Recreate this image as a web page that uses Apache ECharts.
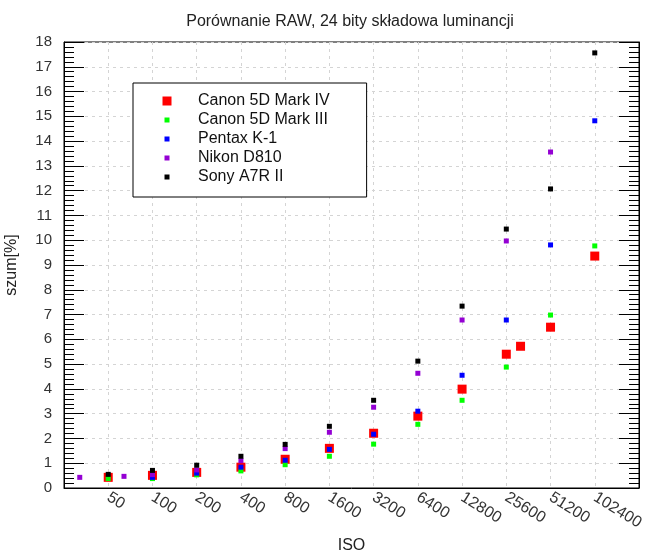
<!DOCTYPE html>
<html>
<head>
<meta charset="utf-8">
<script src="https://cdn.jsdelivr.net/npm/echarts@6/dist/echarts.min.js"></script>
<style>html,body{margin:0;padding:0;background:#fff}#c{width:670px;height:550px}</style>
</head>
<body>
<div id="c"></div>
<script>
// ---- data ----
const isoTicks = [50, 100, 200, 400, 800, 1600, 3200, 6400, 12800, 25600, 51200, 102400];
const isoBase = 25; // left edge of the ISO (log2) axis

const canon4Iso = [50, 100, 200, 400, 800, 1600, 3200, 6400, 12800, 25600, 32000, 51200, 102400];
const canon4Val = [0.43, 0.51, 0.63, 0.84, 1.16, 1.60, 2.21, 2.90, 3.99, 5.40, 5.72, 6.49, 9.36];

const canon3Iso = [50, 100, 200, 400, 800, 1600, 3200, 6400, 12800, 25600, 51200, 102400];
const canon3Val = [0.38, 0.38, 0.53, 0.69, 0.94, 1.28, 1.77, 2.57, 3.54, 4.88, 6.98, 9.77];

const pentaxIso = [100, 200, 400, 800, 1600, 3200, 6400, 12800, 25600, 51200, 102400];
const pentaxVal = [0.43, 0.60, 0.84, 1.12, 1.56, 2.17, 3.10, 4.55, 6.78, 9.81, 14.82];

const nikonIso = [32, 64, 100, 200, 400, 800, 1600, 3200, 6400, 12800, 25600, 51200];
const nikonVal = [0.43, 0.47, 0.54, 0.73, 1.10, 1.59, 2.25, 3.26, 4.63, 6.78, 9.97, 13.56];

const sonyIso = [50, 100, 200, 400, 800, 1600, 3200, 6400, 12800, 25600, 51200, 102400];
const sonyVal = [0.55, 0.71, 0.92, 1.28, 1.76, 2.49, 3.54, 5.12, 7.34, 10.45, 12.07, 17.56];

const seriesNames = ['Canon 5D Mark IV', 'Canon 5D Mark III', 'Pentax K-1', 'Nikon D810', 'Sony A7R II'];
const seriesColors = ['#ff0000', '#00ff00', '#0000ff', '#9400d3', '#000000'];

// ---- build ----
const FONT = 'Liberation Sans, Arial, sans-serif';
function pts(isos, vals) {
  return isos.map((iso, i) => [Math.log2(iso / isoBase), vals[i]]);
}
const allData = [
  pts(canon4Iso, canon4Val),
  pts(canon3Iso, canon3Val),
  pts(pentaxIso, pentaxVal),
  pts(nikonIso, nikonVal),
  pts(sonyIso, sonyVal)
];
const sizes = [9, 5, 5, 5, 5];
const bigIcon = 'path://M0,0M31,10M0.5,0.5h9v9h-9z';
const smallIcon = 'path://M0,0M31,10M2.5,2.5h5v5h-5z';

const series = seriesNames.map((n, i) => ({
  name: n,
  type: 'scatter',
  symbol: 'rect',
  symbolSize: sizes[i],
  itemStyle: { color: seriesColors[i], opacity: 1 },
  data: allData[i],
  z: 2 + i
}));

const chart = echarts.init(document.getElementById('c'), null, { renderer: 'canvas' });
chart.setOption({
  animation: false,
  backgroundColor: '#fff',
  textStyle: { fontFamily: FONT },
  title: {
    text: 'Porównanie RAW, 24 bity składowa luminancji',
    left: 350, top: 14, padding: 0,
    textAlign: 'center',
    textStyle: { fontFamily: FONT, fontSize: 16, fontWeight: 'normal', color: '#222' }
  },
  legend: {
    orient: 'vertical',
    left: 133, top: 83,
    padding: [10, 37, 12, 29],
    itemGap: 3,
    itemWidth: 31, itemHeight: 10,
    backgroundColor: '#fff',
    borderColor: '#000', borderWidth: 1,
    textStyle: { fontFamily: FONT, fontSize: 16, color: '#111', padding: 0 },
    data: seriesNames.map((n, i) => ({ name: n, icon: i === 0 ? bigIcon : smallIcon }))
  },
  grid: {
    left: 64, right: 31, top: 42, bottom: 62,
    containLabel: false,
    outerBoundsMode: 'none',
    show: true, borderColor: '#000', borderWidth: 1, backgroundColor: 'transparent'
  },
  xAxis: {
    type: 'value', min: 0, max: 13, interval: 1,
    name: 'ISO', nameLocation: 'middle', nameGap: 40,
    nameTextStyle: { fontFamily: FONT, fontSize: 16, color: '#222' },
    axisLine: { show: true, lineStyle: { color: '#000', width: 1 } },
    axisTick: { show: false },
    axisLabel: {
      rotate: -32, margin: 8,
      fontFamily: FONT, fontSize: 16, color: '#333',
      formatter: v => {
        const k = Math.round(v);
        return (k >= 1 && k <= isoTicks.length) ? String(isoTicks[k - 1]) : '';
      }
    },
    splitLine: { show: true, lineStyle: { color: '#d4d4d4', type: [3, 4], width: 1 } }
  },
  yAxis: [
    {
      type: 'value', min: 0, max: 18, interval: 1, position: 'left',
      name: 'szum[%]', nameLocation: 'middle', nameGap: 44, nameRotate: 90,
      nameTextStyle: { fontFamily: FONT, fontSize: 16, color: '#222' },
      axisLine: { show: true, lineStyle: { color: '#000', width: 1 } },
      axisTick: { show: true, inside: true, length: 20, lineStyle: { color: '#000', width: 1 } },
      minorTick: { show: true, splitNumber: 5, length: 10, lineStyle: { color: '#000', width: 1 } },
      axisLabel: { margin: 12, fontFamily: FONT, fontSize: 15, color: '#333' },
      splitLine: { show: true, lineStyle: { color: '#d4d4d4', type: [3, 4], width: 1 } }
    },
    {
      type: 'value', min: 0, max: 18, interval: 1, position: 'right',
      axisLine: { show: true, lineStyle: { color: '#000', width: 1 } },
      axisTick: { show: true, inside: true, length: 20, lineStyle: { color: '#000', width: 1 } },
      minorTick: { show: true, splitNumber: 5, length: 10, lineStyle: { color: '#000', width: 1 } },
      axisLabel: { show: false },
      splitLine: { show: false }
    }
  ],
  series: series
});
</script>
</body>
</html>
